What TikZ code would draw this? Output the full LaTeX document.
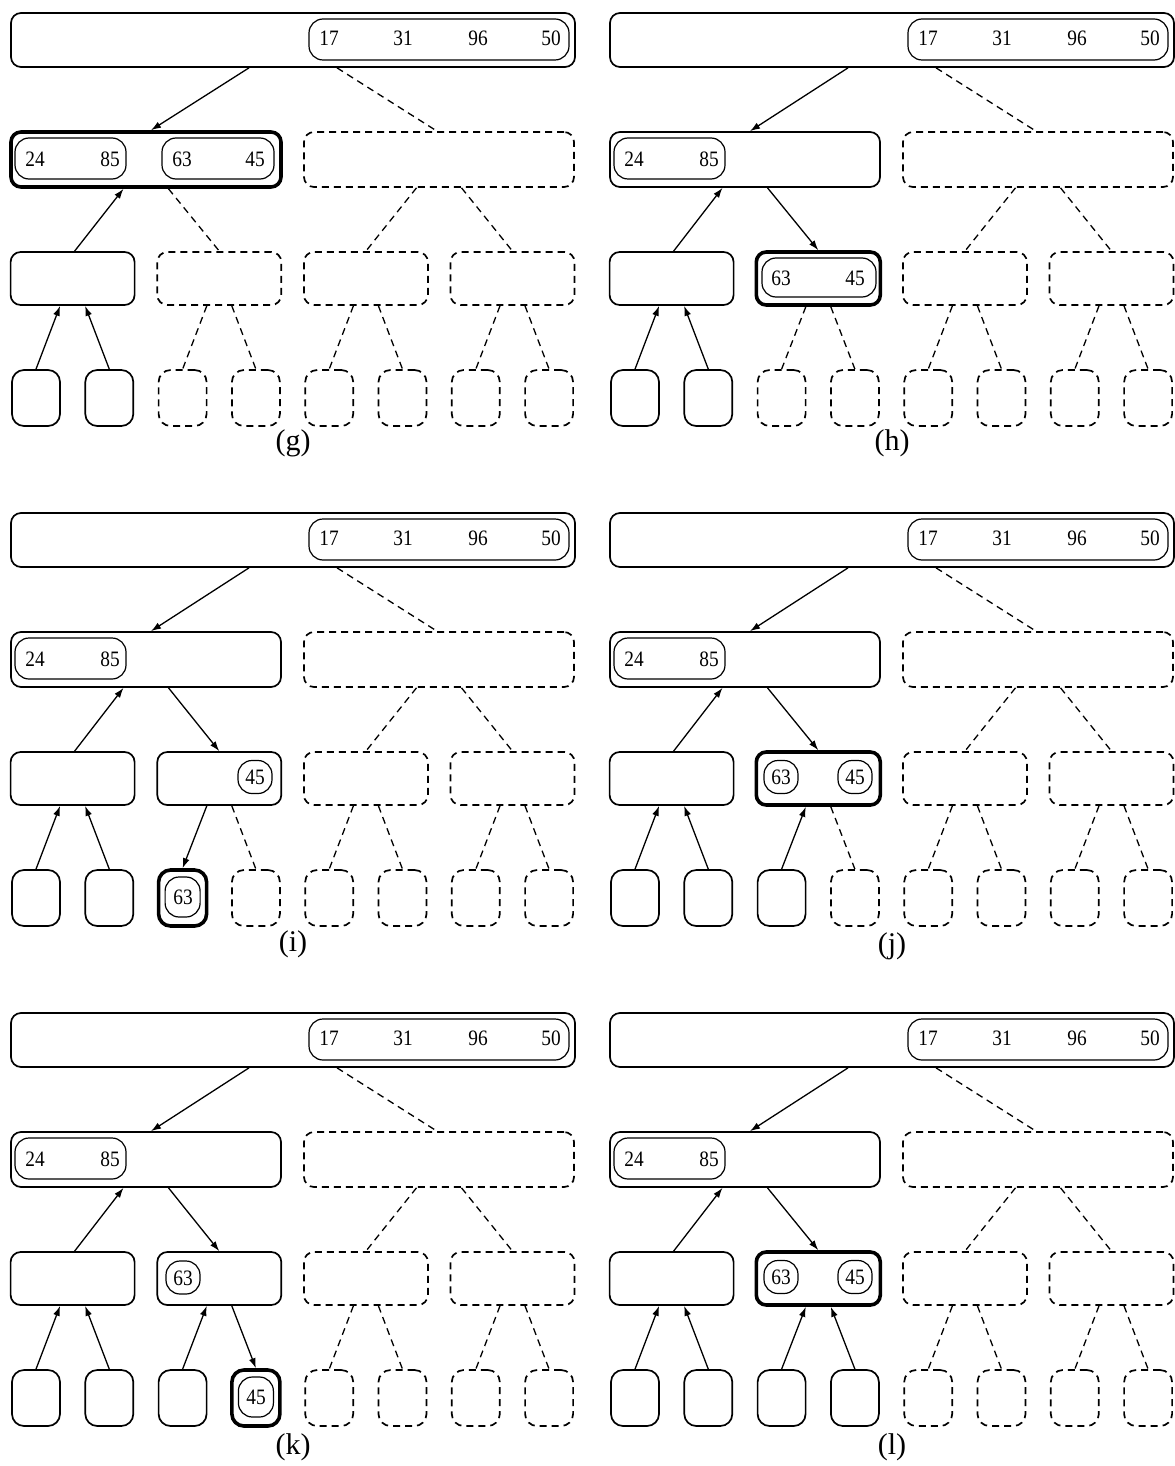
\documentclass[tikz,border=0pt]{standalone}
\usepackage{fontspec}
\setmainfont{Liberation Serif}
\newfontfamily\numfont[FakeStretch=0.88]{Liberation Serif}
\usetikzlibrary{arrows.meta,calc}
\tikzset{
 bx/.style={draw, line width=0.85pt, rounded corners=5pt, inner sep=0pt},
 bxd/.style={bx, dash pattern=on 3.5pt off 2.5pt},
 bxt/.style={bx, line width=1.8pt},
 rootbox/.style={minimum width=282pt, minimum height=27pt},
 lone/.style={minimum width=135pt, minimum height=27.5pt},
 ltwo/.style={minimum width=62pt, minimum height=26.5pt},
 leafbox/.style={minimum width=24pt, minimum height=28pt, rounded corners=6pt},
 inb/.style={draw, line width=0.6pt, rounded corners=7pt, inner sep=0pt, minimum height=20.5pt},
 smallb/.style={draw, line width=0.6pt, rounded corners=7pt, inner sep=0pt, minimum width=17pt, minimum height=16.5pt},
 leafin/.style={draw, line width=0.6pt, rounded corners=7pt, inner sep=0pt, minimum width=17.5pt, minimum height=20pt},
 num/.style={font=\numfont\fontsize{11}{12}\selectfont, inner sep=0pt},
 lbl/.style={font=\fontsize{15}{17}\selectfont, inner sep=0pt},
 arr/.style={line width=0.65pt, -{Latex[length=5pt,width=3.4pt]}},
 dl/.style={line width=0.65pt, dash pattern=on 3.5pt off 2.5pt},
}
% common skeleton of one panel: #1 prefix, #2 style of left level-1 box
\newcommand\common[2]{%
 \node[bx,rootbox] (#1r) at (293,40) {};
 \node[inb,minimum width=130pt] (#1ri) at (439,39.5) {};
 \node[num] (#1t1) at (329,38) {17};
 \node[num] (#1t2) at (403,38) {31};
 \node[num] (#1t3) at (478,38) {96};
 \node[num] (#1t4) at (551,38) {50};
 \node[#2,lone] (#1L) at (146,159.5) {};
 \node[bxd,lone] (#1R) at (439,159.5) {};
 \node[inb,minimum width=55.5pt] (#1Li) at (70.5,158.5) {};
 \node[num] (#1t5) at (35,159) {24};
 \node[num] (#1t6) at (110,159) {85};
 \node[bx,ltwo] (#1a) at (72.6,278.5) {};
 \node[bxd,ltwo] (#1c) at (365.9,278.5) {};
 \node[bxd,ltwo] (#1d) at (512.5,278.5) {};
 \node[bx,leafbox] (#1l1) at (36,398) {};
 \node[bx,leafbox] (#1l2) at (109.3,398) {};
 \node[bxd,leafbox] (#1l5) at (329.2,398) {};
 \node[bxd,leafbox] (#1l6) at (402.5,398) {};
 \node[bxd,leafbox] (#1l7) at (475.8,398) {};
 \node[bxd,leafbox] (#1l8) at (549.1,398) {};
 \draw[arr] ($(#1r.south)+(-44,0)$) -- ($(#1L.north)+(5,0)$);
 \draw[dl] ($(#1r.south)+(44,0)$) -- ($(#1R.north)+(-2,0)$);
 \draw[arr] ($(#1a.north)+(2,0)$) -- ($(#1L.south)+(-22.5,0)$);
 \draw[dl] ($(#1R.south)+(-22.5,0)$) -- (#1c.north);
 \draw[dl] ($(#1R.south)+(22.5,0)$) -- (#1d.north);
 \draw[arr] (#1l1.north) -- ($(#1a.south)+(-12.5,0)$);
 \draw[arr] (#1l2.north) -- ($(#1a.south)+(12.5,0)$);
 \draw[dl] ($(#1c.south)+(-12.5,0)$) -- (#1l5.north);
 \draw[dl] ($(#1c.south)+(12.5,0)$) -- (#1l6.north);
 \draw[dl] ($(#1d.south)+(-12.5,0)$) -- (#1l7.north);
 \draw[dl] ($(#1d.south)+(12.5,0)$) -- (#1l8.north);
}
\begin{document}
\begin{tikzpicture}[x=0.5pt,y=-0.5pt]
\useasboundingbox (0,0) rectangle (1174,1466);

% (g)
\begin{scope}
 \common{g}{bxt}
 \node[inb,minimum width=56pt] (gLj) at (218,158.5) {};
 \node[num] (gt7) at (182,159) {63};
 \node[num] (gt8) at (255,159) {45};
 \node[bxd,ltwo] (gb) at (219.3,278.5) {};
 \node[bxd,leafbox] (gl3) at (182.6,398) {};
 \node[bxd,leafbox] (gl4) at (255.9,398) {};
 \draw[dl] ($(gL.south)+(22.5,0)$) -- (gb.north);
 \draw[dl] ($(gb.south)+(-12.5,0)$) -- (gl3.north);
 \draw[dl] ($(gb.south)+(12.5,0)$) -- (gl4.north);
 \node[lbl] (glab) at (293,443) {(g)};
\end{scope}

% (h)
\begin{scope}[shift={(599,0)}]
 \common{h}{bx}
 \node[bxt,ltwo] (hb) at (219.3,278.5) {};
 \node[inb,minimum width=57pt,minimum height=19.5pt] (hbi) at (220,277.5) {};
 \node[num] (ht7) at (182,278) {63};
 \node[num] (ht8) at (256,278) {45};
 \node[bxd,leafbox] (hl3) at (182.6,398) {};
 \node[bxd,leafbox] (hl4) at (255.9,398) {};
 \draw[arr] ($(hL.south)+(22.5,0)$) -- (hb.north);
 \draw[dl] ($(hb.south)+(-12.5,0)$) -- (hl3.north);
 \draw[dl] ($(hb.south)+(12.5,0)$) -- (hl4.north);
 \node[lbl] (hlab) at (293,443) {(h)};
\end{scope}

% (i)
\begin{scope}[shift={(0,500)}]
 \common{i}{bx}
 \node[bx,ltwo] (ib) at (219.3,278.5) {};
 \node[smallb] (ibs) at (255,277) {};
 \node[num] (it8) at (255,277.5) {45};
 \node[bxt,leafbox] (il3) at (182.6,398) {};
 \node[leafin] (il3i) at (182.6,397) {};
 \node[num] (it7) at (183,397) {63};
 \node[bxd,leafbox] (il4) at (255.9,398) {};
 \draw[arr] ($(iL.south)+(22.5,0)$) -- (ib.north);
 \draw[arr] ($(ib.south)+(-12.5,0)$) -- (il3.north);
 \draw[dl] ($(ib.south)+(12.5,0)$) -- (il4.north);
 \node[lbl] (ilab) at (293,444) {(i)};
\end{scope}

% (j)
\begin{scope}[shift={(599,500)}]
 \common{j}{bx}
 \node[bxt,ltwo] (jb) at (219.3,278.5) {};
 \node[smallb] (jbs1) at (182,277) {};
 \node[num] (jt7) at (182,277.5) {63};
 \node[smallb] (jbs2) at (256,277) {};
 \node[num] (jt8) at (256,277.5) {45};
 \node[bx,leafbox] (jl3) at (182.6,398) {};
 \node[bxd,leafbox] (jl4) at (255.9,398) {};
 \draw[arr] ($(jL.south)+(22.5,0)$) -- (jb.north);
 \draw[arr] (jl3.north) -- ($(jb.south)+(-12.5,0)$);
 \draw[dl] ($(jb.south)+(12.5,0)$) -- (jl4.north);
 \node[lbl] (jlab) at (293,446) {(j)};
\end{scope}

% (k)
\begin{scope}[shift={(0,1000)}]
 \common{k}{bx}
 \node[bx,ltwo] (kb) at (219.3,278.5) {};
 \node[smallb] (kbs) at (183,277.5) {};
 \node[num] (kt7) at (183,278) {63};
 \node[bx,leafbox] (kl3) at (182.6,398) {};
 \node[bxt,leafbox] (kl4) at (255.9,398) {};
 \node[leafin] (kl4i) at (255.9,397) {};
 \node[num] (kt8) at (256,397) {45};
 \draw[arr] ($(kL.south)+(22.5,0)$) -- (kb.north);
 \draw[arr] (kl3.north) -- ($(kb.south)+(-12.5,0)$);
 \draw[arr] ($(kb.south)+(12.5,0)$) -- (kl4.north);
 \node[lbl] (klab) at (293,447) {(k)};
\end{scope}

% (l)
\begin{scope}[shift={(599,1000)}]
 \common{l}{bx}
 \node[bxt,ltwo] (lb) at (219.3,278.5) {};
 \node[smallb] (lbs1) at (182,277) {};
 \node[num] (lt7) at (182,277.5) {63};
 \node[smallb] (lbs2) at (256,277) {};
 \node[num] (lt8) at (256,277.5) {45};
 \node[bx,leafbox] (ll3) at (182.6,398) {};
 \node[bx,leafbox] (ll4) at (255.9,398) {};
 \draw[arr] ($(lL.south)+(22.5,0)$) -- (lb.north);
 \draw[arr] (ll3.north) -- ($(lb.south)+(-12.5,0)$);
 \draw[arr] (ll4.north) -- ($(lb.south)+(12.5,0)$);
 \node[lbl] (llab) at (293,447) {(l)};
\end{scope}
\end{tikzpicture}
\end{document}
